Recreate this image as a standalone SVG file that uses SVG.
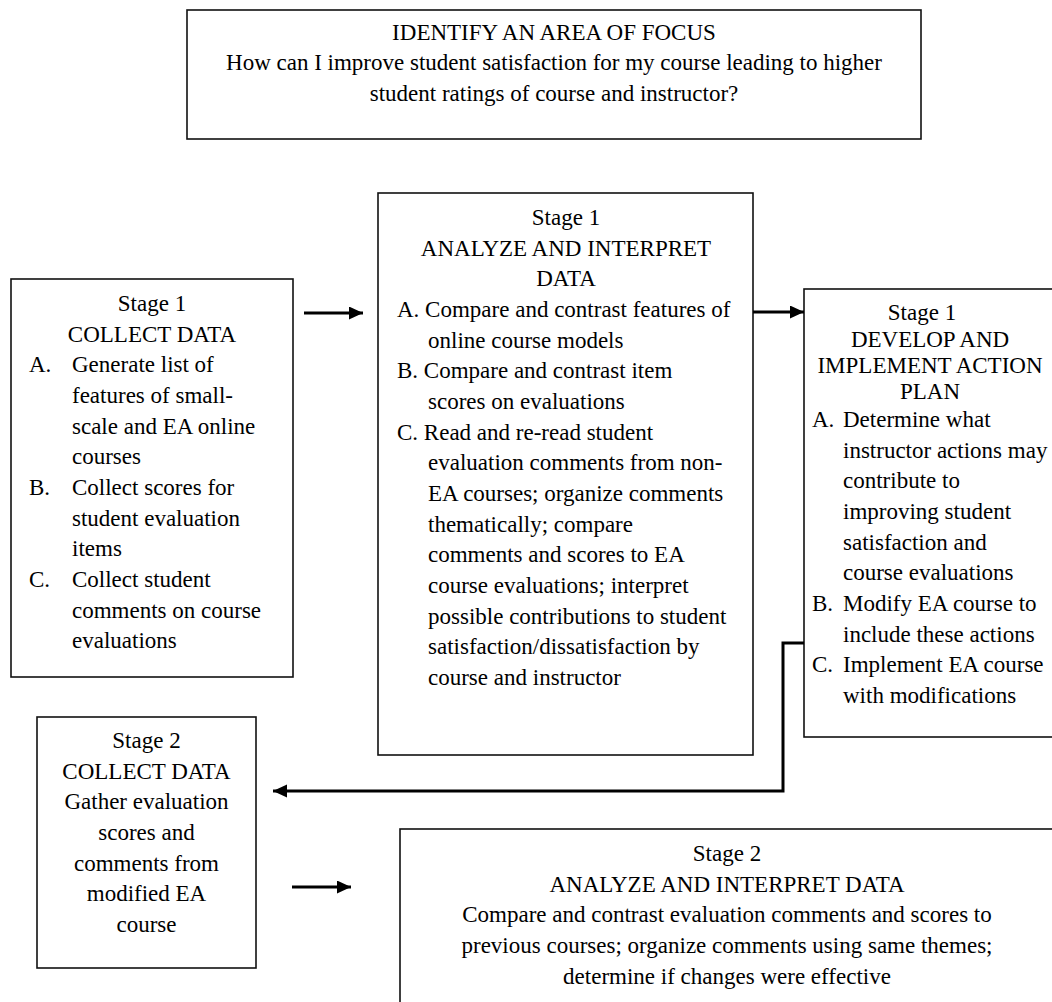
<svg xmlns="http://www.w3.org/2000/svg" width="1052" height="1002" viewBox="0 0 1052 1002">
<style>
  .box { fill: #fff; stroke: #111; stroke-width: 1.6; }
  text { font-family: "Liberation Serif", "Times New Roman", serif; font-size: 23px; fill: #000; }
  .c { text-anchor: middle; }
  .conn { fill: none; stroke: #000; stroke-width: 3; }
</style>
<defs>
  <marker id="ah" markerUnits="userSpaceOnUse" markerWidth="16" markerHeight="14" refX="14" refY="6.5" orient="auto">
    <polygon points="0,0 14,6.5 0,13" fill="#000"/>
  </marker>
</defs>
<rect width="1052" height="1002" fill="#fff"/>

<g id="focus">
  <rect class="box" x="187" y="10" width="734" height="129"/>
  <text class="c" x="554" y="39.5">IDENTIFY AN AREA OF FOCUS</text>
  <text class="c" x="554" y="70">How can I improve student satisfaction for my course leading to higher</text>
  <text class="c" x="554" y="100.5">student ratings of course and instructor?</text>
</g>

<g id="collect1">
  <rect class="box" x="11" y="279" width="282" height="398"/>
  <text class="c" x="152" y="311">Stage 1</text>
  <text class="c" x="152" y="341.7">COLLECT DATA</text>
  <text x="29" y="372.3">A.</text>
  <text x="72" y="372.3">Generate list of</text>
  <text x="72" y="403">features of small-</text>
  <text x="72" y="433.7">scale and EA online</text>
  <text x="72" y="464.3">courses</text>
  <text x="29" y="495">B.</text>
  <text x="72" y="495">Collect scores for</text>
  <text x="72" y="525.7">student evaluation</text>
  <text x="72" y="556.3">items</text>
  <text x="29" y="587">C.</text>
  <text x="72" y="587">Collect student</text>
  <text x="72" y="617.7">comments on course</text>
  <text x="72" y="648.3">evaluations</text>
</g>

<g id="analyze1">
  <rect class="box" x="378" y="193" width="375" height="562"/>
  <text class="c" x="566" y="225">Stage 1</text>
  <text class="c" x="566" y="255.7">ANALYZE AND INTERPRET</text>
  <text class="c" x="566" y="286.3">DATA</text>
  <text x="397" y="317">A. Compare and contrast features of</text>
  <text x="428" y="347.7">online course models</text>
  <text x="397" y="378.3">B. Compare and contrast item</text>
  <text x="428" y="409">scores on evaluations</text>
  <text x="397" y="439.7">C. Read and re-read student</text>
  <text x="428" y="470.3">evaluation comments from non-</text>
  <text x="428" y="501">EA courses; organize comments</text>
  <text x="428" y="531.7">thematically; compare</text>
  <text x="428" y="562.3">comments and scores to EA</text>
  <text x="428" y="593">course evaluations; interpret</text>
  <text x="428" y="623.7">possible contributions to student</text>
  <text x="428" y="654.3">satisfaction/dissatisfaction by</text>
  <text x="428" y="685">course and instructor</text>
</g>

<g id="develop1">
  <rect class="box" x="804" y="289" width="252" height="448"/>
  <text class="c" x="922" y="320">Stage 1</text>
  <text class="c" x="930" y="346.5">DEVELOP AND</text>
  <text class="c" x="930" y="372.5">IMPLEMENT ACTION</text>
  <text class="c" x="930" y="398.5">PLAN</text>
  <text x="812" y="427">A.</text>
  <text x="843" y="427">Determine what</text>
  <text x="843" y="457.7">instructor actions may</text>
  <text x="843" y="488.3">contribute to</text>
  <text x="843" y="519">improving student</text>
  <text x="843" y="549.7">satisfaction and</text>
  <text x="843" y="580.3">course evaluations</text>
  <text x="812" y="611">B.</text>
  <text x="843" y="611">Modify EA course to</text>
  <text x="843" y="641.7">include these actions</text>
  <text x="812" y="672.3">C.</text>
  <text x="843" y="672.3">Implement EA course</text>
  <text x="843" y="703">with modifications</text>
</g>

<g id="collect2">
  <rect class="box" x="37" y="717" width="219" height="251"/>
  <text class="c" x="146.5" y="748">Stage 2</text>
  <text class="c" x="146.5" y="778.7">COLLECT DATA</text>
  <text class="c" x="146.5" y="809.3">Gather evaluation</text>
  <text class="c" x="146.5" y="840">scores and</text>
  <text class="c" x="146.5" y="870.7">comments from</text>
  <text class="c" x="146.5" y="901.3">modified EA</text>
  <text class="c" x="146.5" y="932">course</text>
</g>

<g id="analyze2">
  <rect class="box" x="400" y="829" width="654" height="200"/>
  <text class="c" x="727" y="861">Stage 2</text>
  <text class="c" x="727" y="891.7">ANALYZE AND INTERPRET DATA</text>
  <text class="c" x="727" y="922.3">Compare and contrast evaluation comments and scores to</text>
  <text class="c" x="727" y="953">previous courses; organize comments using same themes;</text>
  <text class="c" x="727" y="983.7">determine if changes were effective</text>
</g>

<g id="connectors">
  <line class="conn" x1="304" y1="313" x2="363" y2="313" marker-end="url(#ah)"/>
  <line class="conn" x1="753" y1="312" x2="804" y2="312" marker-end="url(#ah)"/>
  <polyline class="conn" points="804,643 783,643 783,791 273,791" marker-end="url(#ah)"/>
  <line class="conn" x1="292" y1="887" x2="351" y2="887" marker-end="url(#ah)"/>
</g>
</svg>
